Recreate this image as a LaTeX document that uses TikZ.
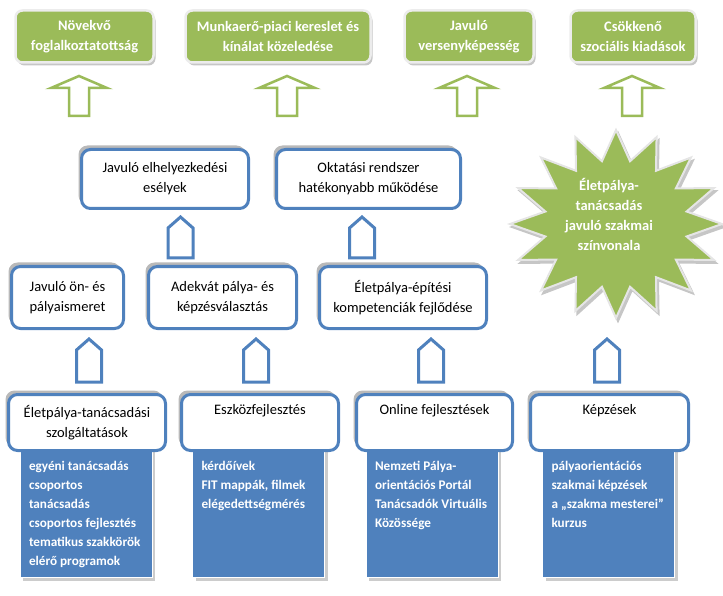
\documentclass[tikz,border=0pt]{standalone}
\usepackage{fontspec}
\setmainfont{Carlito}
\usetikzlibrary{shadows}
\definecolor{officegreen}{HTML}{9BBB59}
\definecolor{officeblue}{HTML}{4F81BD}
\newcommand{\itemlist}[1]{\parbox[c][131pt][t]{114pt}{\raggedright\vspace*{15pt}#1}}

\begin{document}
\begin{tikzpicture}[x=1pt, y=-1pt,
  goal/.style={fill=officegreen, draw=white!85!gray, line width=2.5pt, rounded corners=7pt,
    text=white, font=\bfseries\fontsize{14.5}{20}\selectfont, align=center,
    minimum height=52pt, inner sep=0pt,
    general shadow={fill=gray!45, shadow xshift=2pt, shadow yshift=-3pt}},
  result/.style={fill=white, draw=officeblue, line width=3pt, rounded corners=9pt,
    font=\fontsize{14.5}{20}\selectfont, align=center, inner sep=0pt,
    general shadow={fill=gray!55, shadow xshift=-3pt, shadow yshift=4pt}},
  itembox/.style={fill=officeblue, draw=white, line width=1pt, text=white,
    font=\bfseries\fontsize{13.2}{19}\selectfont, inner xsep=9pt, inner ysep=0pt,
    general shadow={fill=gray!40, shadow xshift=3pt, shadow yshift=-4pt}},
  greenarrow/.style={draw=officegreen, fill=white, line width=2.5pt},
  bluearrow/.style={draw=officeblue, fill=white, line width=3pt},
  starshape/.style={fill=officegreen, draw=white!80!gray, line width=2pt},
  startext/.style={text=white, font=\bfseries\fontsize{14.5}{20}\selectfont, align=center}]
\useasboundingbox (0,0) rectangle (723,596);

\node[goal, minimum width=138pt] (g1) at (84.5,36.5) {Növekvő\\foglalkoztatottság};
\node[goal, minimum width=185pt] (g2) at (278,36.5) {Munkaerő-piaci kereslet és\\kínálat közeledése};
\node[goal, minimum width=129pt] (g3) at (469,36.5) {Javuló\\versenyképesség};
\node[goal, minimum width=125pt] (g4) at (633,36.5) {Csökkenő\\szociális kiadások};

\foreach \x in {79,287,467,632}
  \draw[greenarrow] (\x,76) -- (\x+28,88) -- (\x+10,88) -- (\x+10,116) -- (\x-10,116) -- (\x-10,88) -- (\x-28,88) -- cycle;

\node[result, minimum width=167pt, minimum height=59pt] (m1) at (165,179) {Javuló elhelyezkedési\\esélyek};
\node[result, minimum width=184pt, minimum height=59pt] (m2) at (368.5,179) {Oktatási rendszer\\hatékonyabb működése};

\foreach \x in {180.5,362}
  \draw[bluearrow] (\x,217) -- (\x+12.5,228) -- (\x+12.5,258) -- (\x-12.5,258) -- (\x-12.5,228) -- cycle;

\node[result, minimum width=112pt, minimum height=62pt] (l1) at (67.5,297.5) {Javuló ön- és\\pályaismeret};
\node[result, minimum width=148pt, minimum height=62pt] (l2) at (222.5,297.5) {Adekvát pálya- és\\képzésválasztás};
\node[result, minimum width=167pt, minimum height=62pt] (l3) at (403,297.5) {Életpálya-építési\\kompetenciák fejlődése};

\draw[starshape, fill=gray!45, draw=gray!45, shift={(2,3)}] plot[variable=\k, samples at={0,...,31}]
  ({616+(106-34*mod(\k,2))*cos(90+11.25*\k)}, {224-(94-30*mod(\k,2))*sin(90+11.25*\k)}) -- cycle;
\draw[starshape] plot[variable=\k, samples at={0,...,31}]
  ({616+(106-34*mod(\k,2))*cos(90+11.25*\k)}, {224-(94-30*mod(\k,2))*sin(90+11.25*\k)}) -- cycle;
\node[startext] (st) at (609,214) {Életpálya-\\tanácsadás\\javuló szakmai\\színvonala};

\foreach \x in {89,256,431,607}
  \draw[bluearrow] (\x,339) -- (\x+12.5,350) -- (\x+12.5,382) -- (\x-12.5,382) -- (\x-12.5,350) -- cycle;

\node[itembox] (c1) at (86,511.5) {\itemlist{egyéni tanácsadás\\csoportos\\tanácsadás\\csoportos fejlesztés\\tematikus szakkörök\\elérő programok}};
\node[itembox] (c2) at (258.5,511.5) {\itemlist{kérdőívek\\FIT mappák, filmek\\elégedettségmérés}};
\node[itembox] (c3) at (432,511.5) {\itemlist{Nemzeti Pálya-\\orientációs Portál\\Tanácsadók Virtuális\\Közössége}};
\node[itembox] (c4) at (608.5,511.5) {\itemlist{pályaorientációs\\szakmai képzések\\a „szakma mesterei”\\kurzus}};

\node[result, minimum width=157pt, minimum height=56pt] (b1) at (87,422.5) {Életpálya-tanácsadási\\szolgáltatások};
\node[result, minimum width=157pt, minimum height=56pt] (b2) at (260,422.5) {Eszközfejlesztés\\\strut};
\node[result, minimum width=156pt, minimum height=56pt] (b3) at (434.5,422.5) {Online fejlesztések\\\strut};
\node[result, minimum width=158pt, minimum height=56pt] (b4) at (609.5,422.5) {Képzések\\\strut};
\end{tikzpicture}
\end{document}
